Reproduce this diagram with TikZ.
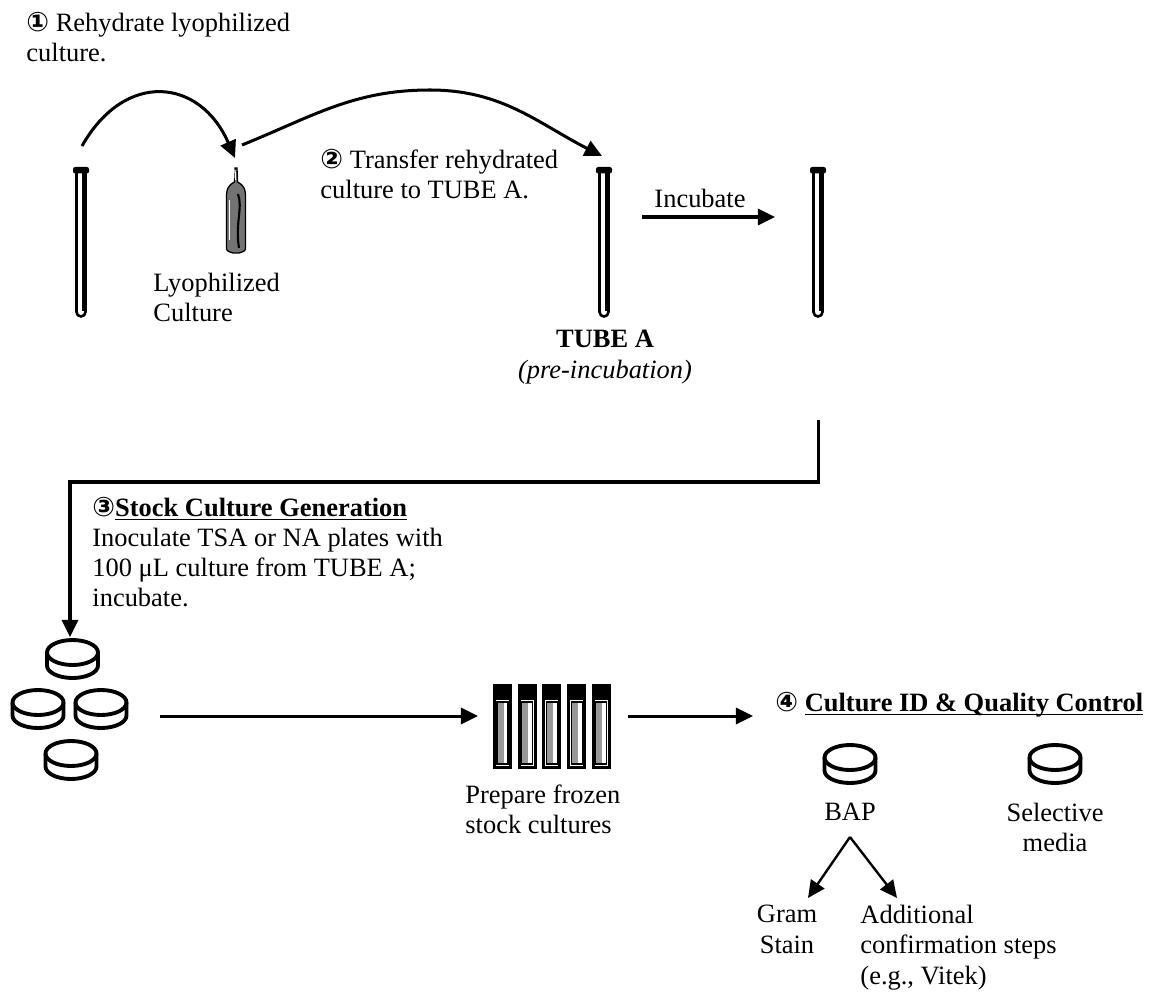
\documentclass[tikz,border=0pt]{standalone}
\usepackage{fontspec}
\setmainfont{Liberation Serif}
\newfontfamily\circfont{DejaVu Sans}
\usetikzlibrary{arrows.meta}

\newcommand{\cnum}[1]{{\circfont\bfseries\fontsize{12.5}{13}\selectfont #1}}
\newcommand{\ulb}[1]{\underline{\smash{\textbf{#1}}}}

\newcommand{\testtube}[1]{%
  \begin{scope}[shift={(#1)}]
    \fill[rounded corners=1pt] (-8,0) rectangle (8,-6.5);
    \draw[line width=1.2pt] (-4.5,-5) -- (-4.5,-145) arc[start angle=180,end angle=360,radius=4.5] -- (4.5,-5);
    \draw[line width=2.2pt] (3.8,-5) -- (3.8,-144);
  \end{scope}}

\newcommand{\ampoule}[1]{%
  \begin{scope}[shift={(#1)}]
    \filldraw[fill=black!55,line width=0.6pt] (-1,0) -- (1,0) -- (1.5,-14) .. controls (9,-18) and (9.5,-22) .. (9.5,-30)
      -- (9.5,-78) .. controls (9.5,-83) .. (3,-85) -- (-3,-85) .. controls (-9.5,-83) .. (-9.5,-78)
      -- (-9.5,-30) .. controls (-9.5,-22) and (-9,-18) .. (-1.5,-14) -- cycle;
    \draw[line width=1pt] (2,-26) .. controls (7,-40) and (-1,-55) .. (3,-80);
    \draw[white,line width=0.8pt] (-6.5,-32) -- (-6.5,-72);
    \draw[white,line width=0.6pt] (-1,-2) -- (-0.5,-12);
  \end{scope}}

\newcommand{\petri}[1]{%
  \begin{scope}[shift={(#1)},line width=1.8pt]
    \draw (0,6.5) ellipse[x radius=25.5,y radius=12.5];
    \draw (-25.5,6.5) -- (-25.5,-6.5) arc[start angle=180,end angle=360,x radius=25.5,y radius=12.5] -- (25.5,6.5);
  \end{scope}}

\newcommand{\frozentube}[1]{%
  \begin{scope}[shift={(#1)}]
    \fill (0,0) rectangle (19,-85);
    \fill[white] (3,-16) rectangle (16,-82);
    \fill[gray!80] (4,-18) rectangle (10.5,-80);
    \draw[line width=0.5pt] (4,-18) rectangle (15,-80);
  \end{scope}}

\begin{document}
\begin{tikzpicture}[x=0.465pt,y=0.465pt,
  txt/.style={inner sep=0pt,align=left,font=\fontsize{12.3}{14}\selectfont},
  arr/.style={line width=1.4pt,-{Triangle[length=8pt,width=7.5pt]}}]
\useasboundingbox (0,0) rectangle (1155,-992);

% tubes and vial
\coordinate (tube1) at (81,-167);
\coordinate (vial) at (236,-168);
\coordinate (tubeA) at (604,-167);
\coordinate (tube3) at (818,-167);
\testtube{tube1}
\ampoule{vial}
\testtube{tubeA}
\testtube{tube3}

% plates
\coordinate (plateT) at (72.5,-659);
\coordinate (plateL) at (38,-709);
\coordinate (plateR) at (101,-709);
\coordinate (plateB) at (71,-760);
\coordinate (bapplate) at (850,-764);
\coordinate (selplate) at (1055,-764);
\foreach \p in {plateT,plateL,plateR,plateB,bapplate,selplate}
  \petri{\p};

% frozen stocks
\foreach \i in {0,...,4}
  \frozentube{493+24.7*\i,-684};

\node[txt,anchor=north west] (step1) at (26,-12) {\cnum{①} Rehydrate lyophilized\\culture.};
\node[txt,anchor=north west] (lyo) at (153,-273) {Lyophilized\\Culture};
\node[txt,anchor=north west] (step2) at (320,-149) {\cnum{②} Transfer rehydrated\\culture to TUBE A.};
\node[txt,anchor=base] (incub) at (700,-208) {Incubate};
\node[txt,align=center,anchor=north] (tubeAlbl) at (605,-330) {\textbf{TUBE A}\\\textit{(pre-incubation)}};
\node[txt,anchor=north west] (step3) at (92,-497) {\cnum{③}\ulb{Stock Culture Generation}\\Inoculate TSA or NA plates with\\100 μL culture from TUBE A;\\incubate.};
\node[txt,anchor=north west] (frozenlbl) at (465,-784) {Prepare frozen\\stock cultures};
\node[txt,anchor=base west] (step4) at (775,-711) {\cnum{④} \ulb{Culture ID \& Quality Control}};
\node[txt,anchor=base] (bap) at (850,-820) {BAP};
\node[txt,align=center,anchor=north] (selective) at (1055,-803) {Selective\\media};
\node[txt,align=center,anchor=north] (gram) at (787,-905) {Gram\\Stain};
\node[txt,anchor=north west] (confirm) at (860,-905) {Additional\\confirmation steps\\(e.g., Vitek)};

% arrow ends
\coordinate (t1out) at (82,-146);
\coordinate (vialin) at (235,-158);
\coordinate (vialout) at (242,-145);
\coordinate (tubeAin) at (602,-156);
\coordinate (incA) at (642,-217);
\coordinate (incB) at (775,-217);
\coordinate (t3out) at (818,-420);
\coordinate (platein) at (70,-637);
\coordinate (platesout) at (160,-716);
\coordinate (frozenin) at (478,-716);
\coordinate (frozenout) at (628,-716);
\coordinate (qcin) at (753,-716);
\coordinate (bapfork) at (850,-837);
\coordinate (gramin) at (808,-898);
\coordinate (confin) at (897,-898);

\draw[arr] (t1out) .. controls (125,-70) and (200,-78) .. (vialin);
\draw[arr] (vialout) to[out=22,in=180] (430,-90) to[out=0,in=153] (tubeAin);
\draw[arr] (incA) -- (incB);
\draw[arr] (t3out) -- ++(0,-62) -| (platein);
\draw[arr] (platesout) -- (frozenin);
\draw[arr] (frozenout) -- (qcin);
\draw[arr,line width=1.1pt] (bapfork) -- (gramin);
\draw[arr,line width=1.1pt] (bapfork) -- (confin);
\end{tikzpicture}
\end{document}
